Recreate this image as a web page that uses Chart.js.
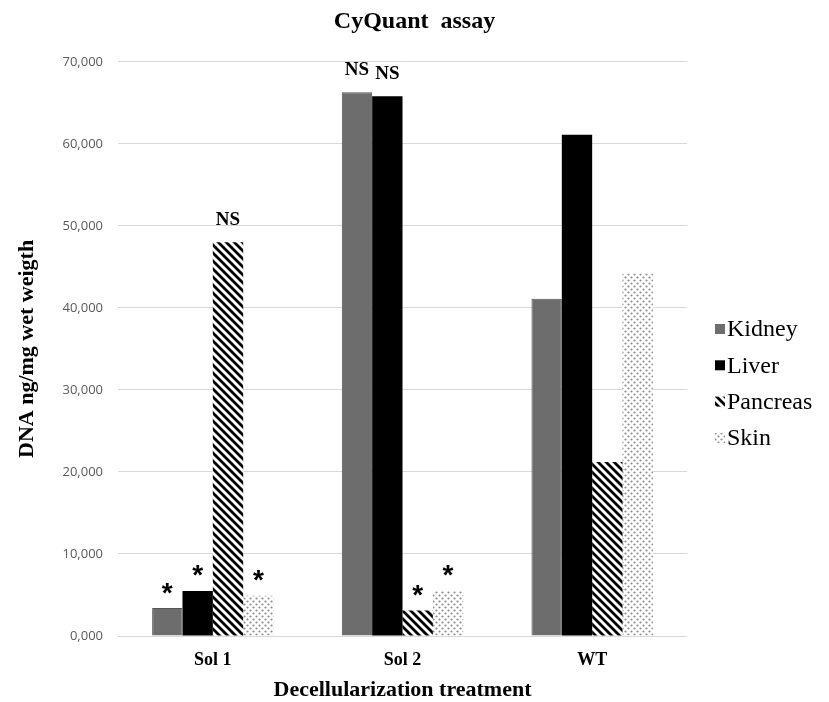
<!DOCTYPE html>
<html>
<head>
<meta charset="utf-8">
<script src="https://cdn.jsdelivr.net/npm/chart.js@4.4.1/dist/chart.umd.min.js"></script>
<style>
  html, body { margin: 0; padding: 0; background: #fff; }
  #wrap { width: 829px; height: 702px; }
</style>
</head>
<body>
<div id="wrap"><canvas id="cyquantChart" width="829" height="702"></canvas></div>
<script>
const categories = ['Sol 1', 'Sol 2', 'WT'];
const kidney = [3400, 66300, 41100];
const liver = [5500, 65800, 61100];
const pancreas = [48000, 3100, 21200];
const skin = [4900, 5500, 44200];
// significance marks drawn above the bars
const kidneySig = ['*', 'NS', ''];
const liverSig = ['*', 'NS', ''];
const pancreasSig = ['NS', '*', ''];
const skinSig = ['*', '*', ''];
const yTicks = [0, 10000, 20000, 30000, 40000, 50000, 60000, 70000];

function stripePattern() {
  const c = document.createElement('canvas');
  c.width = 8; c.height = 8;
  const g = c.getContext('2d');
  g.fillStyle = '#fff';
  g.fillRect(0, 0, 8, 8);
  g.strokeStyle = '#000';
  g.lineWidth = 2.8;
  g.beginPath();
  for (let k = -1; k <= 1; k++) {
    g.moveTo(-2, -2 + 8 * k);
    g.lineTo(10, 10 + 8 * k);
  }
  g.stroke();
  return g.createPattern(c, 'repeat');
}

function dotPattern() {
  const c = document.createElement('canvas');
  c.width = 6; c.height = 6;
  const g = c.getContext('2d');
  g.fillStyle = '#fff';
  g.fillRect(0, 0, 6, 6);
  g.fillStyle = '#8c8c8c';
  [[1.5, 1.5], [4.5, 4.5]].forEach(p => {
    g.beginPath();
    g.arc(p[0], p[1], 1.1, 0, Math.PI * 2);
    g.fill();
  });
  return g.createPattern(c, 'repeat');
}

// legend drawn by hand so the swatch/text spacing matches
const sideLegend = {
  id: 'sideLegend',
  afterDraw(chart) {
    const ctx = chart.ctx;
    const x = chart.chartArea.right + 28;
    let y = 329;
    ctx.save();
    ctx.font = '24px "Liberation Serif"';
    ctx.textBaseline = 'middle';
    chart.data.datasets.forEach(ds => {
      ctx.fillStyle = ds.backgroundColor;
      ctx.fillRect(x, y - 5, 10, 10);
      ctx.fillStyle = '#000';
      ctx.fillText(ds.label, x + 12, y + 1);
      y += 36.3;
    });
    ctx.restore();
  }
};

const sigMarks = {
  id: 'sigMarks',
  afterDatasetsDraw(chart) {
    const ctx = chart.ctx;
    ctx.save();
    ctx.fillStyle = '#000';
    ctx.textAlign = 'center';
    ctx.textBaseline = 'alphabetic';
    chart.data.datasets.forEach((ds, i) => {
      chart.getDatasetMeta(i).data.forEach((bar, j) => {
        const mark = ds.sig[j];
        if (!mark) return;
        const star = mark === '*';
        ctx.font = star ? 'bold 28px "Liberation Sans"' : 'bold 19px "Liberation Serif"';
        const m = ctx.measureText(mark);
        const cy = bar.y - (star ? 20 : 24);
        ctx.fillText(mark, bar.x, cy + (m.actualBoundingBoxAscent - m.actualBoundingBoxDescent) / 2);
      });
    });
    ctx.restore();
  }
};

const ctx = document.getElementById('cyquantChart').getContext('2d');
const chart = new Chart(ctx, {
  type: 'bar',
  data: {
    labels: categories,
    datasets: [
      { label: 'Kidney', data: kidney, sig: kidneySig, backgroundColor: '#6d6d6d', borderColor: '#555', borderWidth: 1 },
      { label: 'Liver', data: liver, sig: liverSig, backgroundColor: '#000' },
      { label: 'Pancreas', data: pancreas, sig: pancreasSig, backgroundColor: stripePattern() },
      { label: 'Skin', data: skin, sig: skinSig, backgroundColor: dotPattern() }
    ]
  },
  options: {
    responsive: false,
    animation: false,
    layout: { padding: { left: 0, right: 0, top: 0, bottom: 0 } },
    datasets: {
      bar: { categoryPercentage: 0.64, barPercentage: 1 }
    },
    plugins: {
      legend: { display: false },
      tooltip: { enabled: false },
      title: {
        display: true,
        text: 'CyQuant  assay',
        color: '#000',
        font: { family: '"Liberation Serif"', size: 24, weight: 'bold' },
        padding: { top: 7, bottom: 26 }
      }
    },
    scales: {
      x: {
        afterFit: s => { s.height = 66; },
        grid: { display: false, drawTicks: false },
        border: { display: false },
        ticks: {
          color: '#000',
          padding: 14,
          font: { family: '"Liberation Serif"', size: 18, weight: 'bold' }
        },
        title: {
          display: true,
          text: 'Decellularization treatment',
          color: '#000',
          font: { family: '"Liberation Serif"', size: 22, weight: 'bold', lineHeight: 1.1 },
          padding: { top: 6, bottom: 0 }
        }
      },
      y: {
        min: 0,
        max: 70000,
        afterBuildTicks: s => { s.ticks = yTicks.map(v => ({ value: v })); },
        afterFit: s => { s.width = 118; },
        grid: { color: '#d9d9d9', lineWidth: 1, drawTicks: false },
        border: { display: false },
        ticks: {
          color: '#595959',
          padding: 15,
          font: { family: '"Open Sans"', size: 13 },
          callback: v => (v / 1000).toFixed(3).replace('.', ',')
        },
        title: {
          display: true,
          text: 'DNA ng/mg wet weigth',
          color: '#000',
          font: { family: '"Liberation Serif"', size: 22, weight: 'bold' },
          padding: { top: 14, bottom: 0 }
        }
      },
      // empty right-hand axis that reserves room for the legend
      legendSpace: {
        type: 'linear',
        position: 'right',
        display: true,
        grid: { display: false },
        border: { display: false },
        ticks: { display: false },
        afterFit: s => { s.width = 142; }
      }
    }
  },
  plugins: [sigMarks, sideLegend]
});
</script>
</body>
</html>
